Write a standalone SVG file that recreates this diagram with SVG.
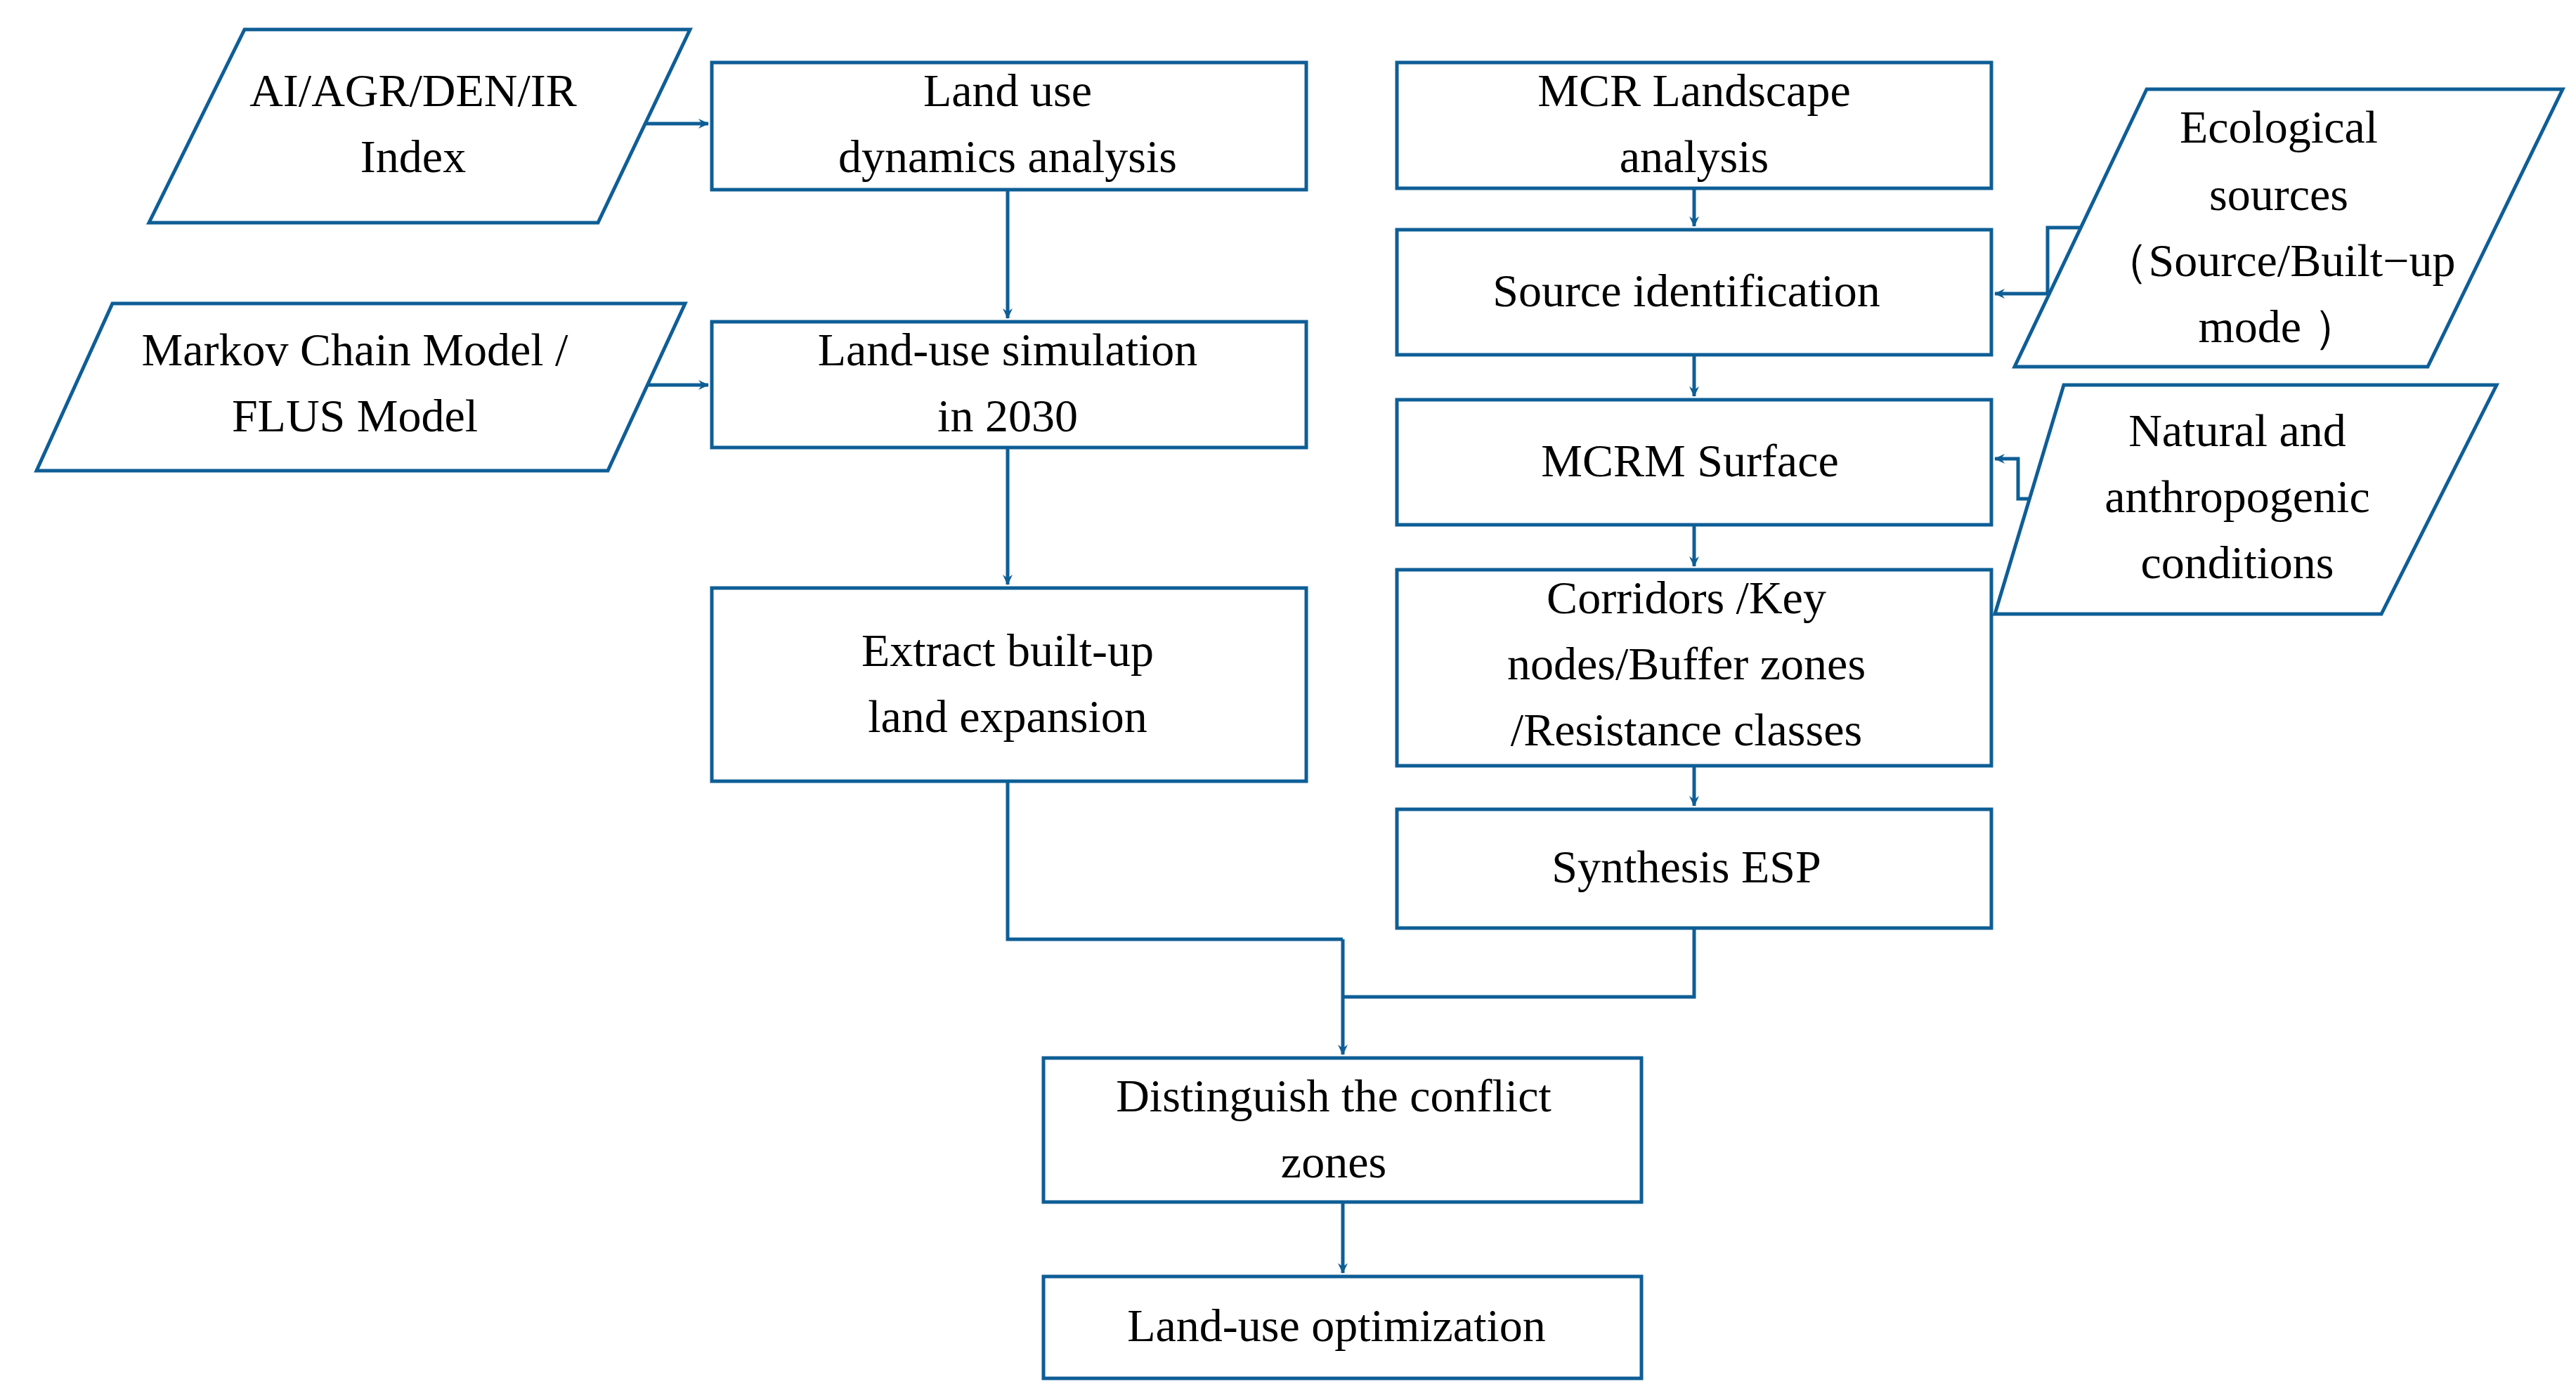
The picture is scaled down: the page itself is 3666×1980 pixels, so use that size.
<svg xmlns="http://www.w3.org/2000/svg" width="3666" height="1980" viewBox="0 0 3666 1980">
<style>
.n{fill:#fff;stroke:#0e5e96;stroke-width:5}
.c{fill:none;stroke:#0e5e96;stroke-width:5}
text{font-family:"Liberation Serif","DejaVu Serif",serif;font-size:66px;fill:#000;text-anchor:middle;dominant-baseline:middle}
</style>
<defs>
<marker id="a" markerWidth="8" markerHeight="8" refX="7" refY="4" orient="auto" markerUnits="userSpaceOnUse" viewBox="0 0 8 8">
<path d="M0,0 L8,4 L0,8 L3,4 Z" fill="#0e5e96" transform="scale(1)"/>
</marker>
<marker id="b" markerWidth="16" markerHeight="16" refX="14" refY="8" orient="auto" markerUnits="userSpaceOnUse">
<path d="M0,1 L15,8 L0,15 L5,8 Z" fill="#0e5e96"/>
</marker>
</defs>
<g id="connectors">
<path class="c" d="M917,176 H1008" marker-end="url(#b)"/>
<path class="c" d="M921,548 H1008" marker-end="url(#b)"/>
<path class="c" d="M1434,270 V453" marker-end="url(#b)"/>
<path class="c" d="M1434,637 V832" marker-end="url(#b)"/>
<path class="c" d="M2411,268 V322" marker-end="url(#b)"/>
<path class="c" d="M2411,505 V564" marker-end="url(#b)"/>
<path class="c" d="M2411,747 V806" marker-end="url(#b)"/>
<path class="c" d="M2411,1090 V1147" marker-end="url(#b)"/>
<path class="c" d="M2966,324 H2914 V418"/>
<path class="c" d="M2950,418 H2839" marker-end="url(#b)"/>
<path class="c" d="M2926,710 H2872 V653 H2839" marker-end="url(#b)"/>
<path class="c" d="M1434,1112 V1337 H1911"/>
<path class="c" d="M2411,1321 V1419 H1911"/>
<path class="c" d="M1911,1337 V1501" marker-end="url(#b)"/>
<path class="c" d="M1911,1711 V1812" marker-end="url(#b)"/>
</g>
<g id="p1"><polygon class="n" points="212,317 348,42 982,42 851,317"/><text x="588" y="136">AI/AGR/DEN/IR</text><text x="588" y="230">Index</text></g>
<g id="p2"><polygon class="n" points="52,670 160,432 975,432 865,670"/><text x="505" y="505">Markov Chain Model /</text><text x="505" y="599">FLUS Model</text></g>
<g id="b1"><rect class="n" x="1013" y="89" width="846" height="181"/><text x="1434" y="136">Land use</text><text x="1434" y="230">dynamics analysis</text></g>
<g id="b2"><rect class="n" x="1013" y="458" width="846" height="179"/><text x="1434" y="505">Land-use simulation</text><text x="1434" y="599">in 2030</text></g>
<g id="b3"><rect class="n" x="1013" y="837" width="846" height="275"/><text x="1434" y="933">Extract  built-up</text><text x="1434" y="1027">land expansion</text></g>
<g id="r1"><rect class="n" x="1988" y="89" width="846" height="179"/><text x="2411" y="136">MCR  Landscape</text><text x="2411" y="230">analysis</text></g>
<g id="r2"><rect class="n" x="1988" y="327" width="846" height="178"/><text x="2400" y="421">Source identification</text></g>
<g id="r3"><rect class="n" x="1988" y="569" width="846" height="178"/><text x="2405" y="663">MCRM  Surface</text></g>
<g id="r4"><rect class="n" x="1988" y="811" width="846" height="279"/><text x="2400" y="858">Corridors /Key</text><text x="2400" y="952">nodes/Buffer zones</text><text x="2400" y="1046">/Resistance  classes</text></g>
<g id="r5"><rect class="n" x="1988" y="1152" width="846" height="169"/><text x="2400" y="1241">Synthesis  ESP</text></g>
<g id="p3"><polygon class="n" points="2867,522 3055,127 3647,127 3455,522"/><text x="3243" y="188">Ecological</text><text x="3243" y="284">sources</text><text x="3243" y="378">（Source/Built−up</text><text x="3243" y="472">mode  ）</text></g>
<g id="p4"><polygon class="n" points="2839,874 2937,548 3553,548 3389,874"/><text x="3184" y="620">Natural and</text><text x="3184" y="714">anthropogenic</text><text x="3184" y="808">conditions</text></g>
<g id="f1"><rect class="n" x="1485" y="1506" width="851" height="205"/><text x="1898" y="1567">Distinguish the conflict</text><text x="1898" y="1661">zones</text></g>
<g id="f2"><rect class="n" x="1485" y="1817" width="851" height="145"/><text x="1902" y="1894">Land-use optimization</text></g>
</svg>
